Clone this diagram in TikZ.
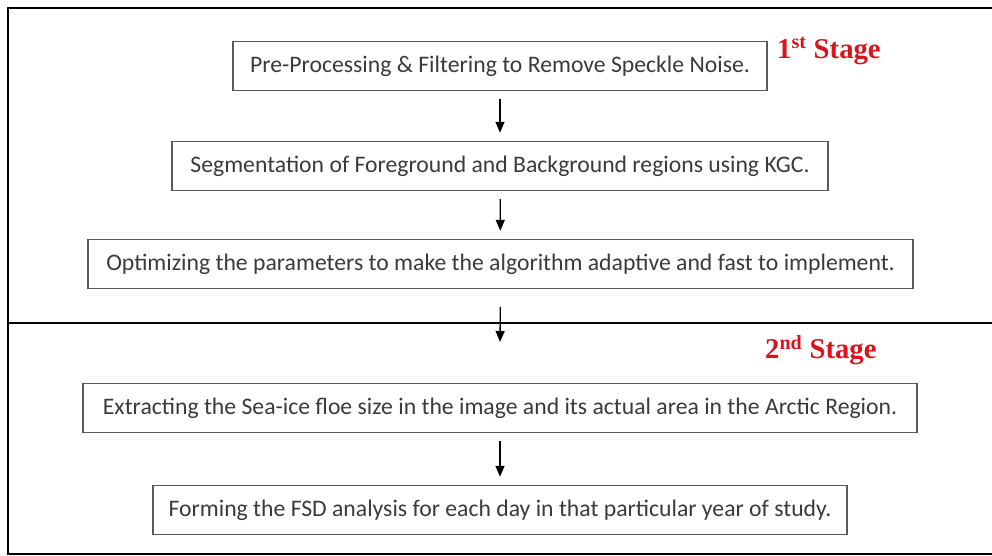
\documentclass[tikz,border=0pt]{standalone}
\usepackage{fontspec}
\setmainfont{Carlito}
\newfontfamily\stagefont{Liberation Serif}
\usetikzlibrary{arrows.meta}
\definecolor{txtgray}{HTML}{3A3A3A}
\definecolor{boxgray}{HTML}{5A5A5A}
\definecolor{stagered}{HTML}{D8141E}
\tikzset{
  stepbox/.style={draw=boxgray, line width=1.4pt, rectangle, inner sep=0pt,
    minimum height=49pt, text=txtgray, font=\fontsize{23.7}{27}\selectfont},
  flow/.style={draw=black, line width=1.3pt, -{Triangle[length=11pt,width=9pt]}, shorten <=8pt, shorten >=8pt},
  stagelbl/.style={anchor=west, inner sep=0pt, text=stagered, font=\stagefont\bfseries\fontsize{28.7}{32}\selectfont}
}
\begin{document}
\begin{tikzpicture}[x=1pt,y=-1pt]
\useasboundingbox (0,0) rectangle (992,556);
\draw[line width=2pt] (992,8) -- (8,8) -- (8,554) -- (992,554);
\draw[line width=2pt] (8,323) -- (992,323);
\node[stepbox, minimum width=534pt] (b1) at (500,66) {Pre-Processing \& Filtering to Remove Speckle Noise.};
\node[stepbox, minimum width=656pt] (b2) at (500,166) {Segmentation of Foreground and Background regions using KGC.};
\node[stepbox, minimum width=825pt] (b3) at (500.5,264) {Optimizing the parameters to make the algorithm adaptive and fast to implement.};
\node[stepbox, minimum width=834pt] (b4) at (500,408) {Extracting the Sea-ice floe size in the image and its actual area in the Arctic Region.};
\node[stepbox, minimum width=694pt] (b5) at (500,510) {Forming the FSD analysis for each day in that particular year of study.};
\coordinate (c3) at (500,350);
\draw[flow] (b1) -- (b2);
\draw[flow] (b2) -- (b3);
\draw[flow, shorten <=18pt] (b3) -- (c3);
\draw[flow] (b4) -- (b5);
\node[stagelbl] (s1) at (777,51) {1\textsuperscript{st} Stage};
\node[stagelbl] (s2) at (765,350) {2\textsuperscript{nd} Stage};
\end{tikzpicture}
\end{document}
